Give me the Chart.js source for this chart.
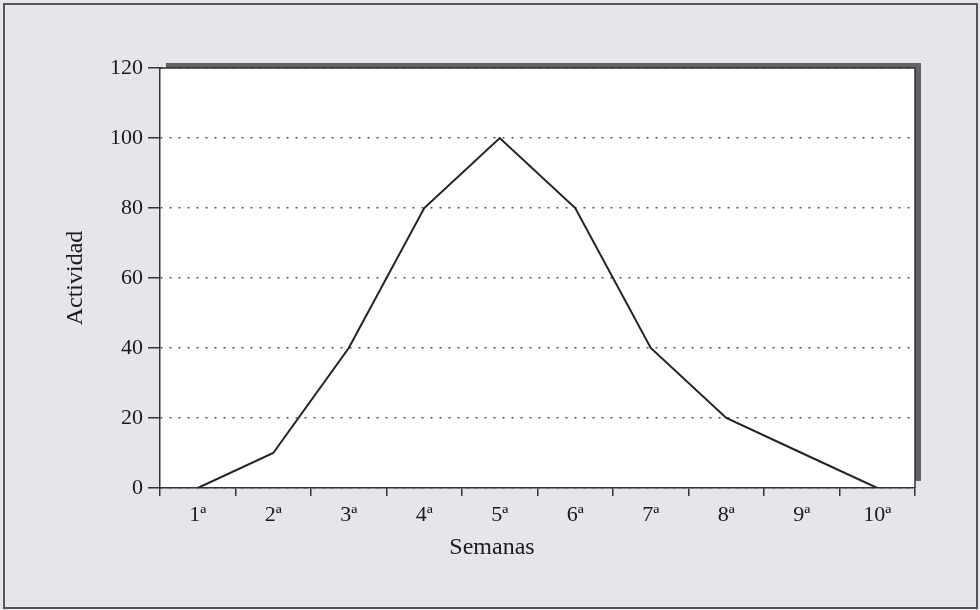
<!DOCTYPE html>
<html>
<head>
<meta charset="utf-8">
<script src="https://cdn.jsdelivr.net/npm/chart.js@4"></script>
<style>
  html, body { margin: 0; padding: 0; background: #e4e6ea; }
  #wrap { width: 980px; height: 610px; position: relative; }
</style>
</head>
<body>
<div id="wrap"><canvas id="chart" width="980" height="610"></canvas></div>
<script>
  // chart data
  var semanas = ['1ª', '2ª', '3ª', '4ª', '5ª', '6ª', '7ª', '8ª', '9ª', '10ª'];
  var actividad = [0, 10, 40, 80, 100, 80, 40, 20, 10, 0];
  var yTicks = [0, 20, 40, 60, 80, 100, 120];

  var serif = "'Liberation Serif', 'DejaVu Serif', serif";

  // paints the page background, the frame and the plot shadow
  var framePlugin = {
    id: 'frame',
    beforeDraw: function(chart) {
      var ctx = chart.ctx, a = chart.chartArea;
      ctx.save();
      ctx.fillStyle = '#e4e6ea';
      ctx.fillRect(0, 0, chart.width, chart.height);
      ctx.strokeStyle = '#555';
      ctx.lineWidth = 2;
      ctx.strokeRect(4, 4, chart.width - 7, chart.height - 6);
      // shadow behind plot area
      ctx.fillStyle = '#626262';
      ctx.fillRect(a.left + 6, a.top - 5, a.right - a.left, a.bottom - a.top - 2);
      ctx.fillStyle = '#ffffff';
      ctx.fillRect(a.left, a.top, a.right - a.left, a.bottom - a.top);
      ctx.restore();
    },
    afterDraw: function(chart) {
      var ctx = chart.ctx, a = chart.chartArea;
      ctx.save();
      ctx.strokeStyle = '#333';
      ctx.lineWidth = 1.5;
      ctx.beginPath();
      ctx.moveTo(a.left, a.top);
      ctx.lineTo(a.right, a.top);
      ctx.lineTo(a.right, a.bottom);
      ctx.stroke();
      // axis titles
      ctx.fillStyle = '#1a1a1a';
      ctx.font = '24px ' + serif;
      ctx.textAlign = 'center';
      ctx.textBaseline = 'middle';
      ctx.fillText('Semanas', 492, 548);
      ctx.translate(76, (a.top + a.bottom) / 2);
      ctx.rotate(-Math.PI / 2);
      ctx.fillText('Actividad', 0, 0);
      ctx.restore();
    }
  };

  new Chart(document.getElementById('chart'), {
    type: 'line',
    data: {
      labels: semanas,
      datasets: [{
        data: actividad,
        borderColor: '#222',
        borderWidth: 2,
        pointRadius: 0,
        tension: 0,
        fill: false
      }]
    },
    options: {
      responsive: false,
      animation: false,
      layout: { padding: { left: 100, top: 68, right: 65, bottom: 42 } },
      plugins: { legend: { display: false }, tooltip: { enabled: false } },
      scales: {
        x: {
          offset: true,
          afterFit: function(s) { s.height = 80; },
          grid: {
            offset: true,
            drawOnChartArea: false,
            tickLength: 8,
            tickColor: '#333',
            lineWidth: 1.5
          },
          border: { color: '#333', width: 1.5 },
          ticks: {
            color: '#1a1a1a',
            font: { family: serif, size: 22 },
            padding: 6,
            maxRotation: 0
          }
        },
        y: {
          min: 0,
          max: 120,
          afterFit: function(s) { s.width = 60; },
          afterBuildTicks: function(s) {
            s.ticks = yTicks.map(function(v) { return { value: v }; });
          },
          grid: {
            color: '#555',
            lineWidth: 1.5,
            tickBorderDash: [],
            tickLength: 12,
            tickColor: '#333'
          },
          border: { color: '#333', width: 1.5, dash: [2, 7] },
          ticks: {
            color: '#1a1a1a',
            font: { family: serif, size: 22 },
            padding: 5
          }
        }
      }
    },
    plugins: [framePlugin]
  });
</script>
</body>
</html>
